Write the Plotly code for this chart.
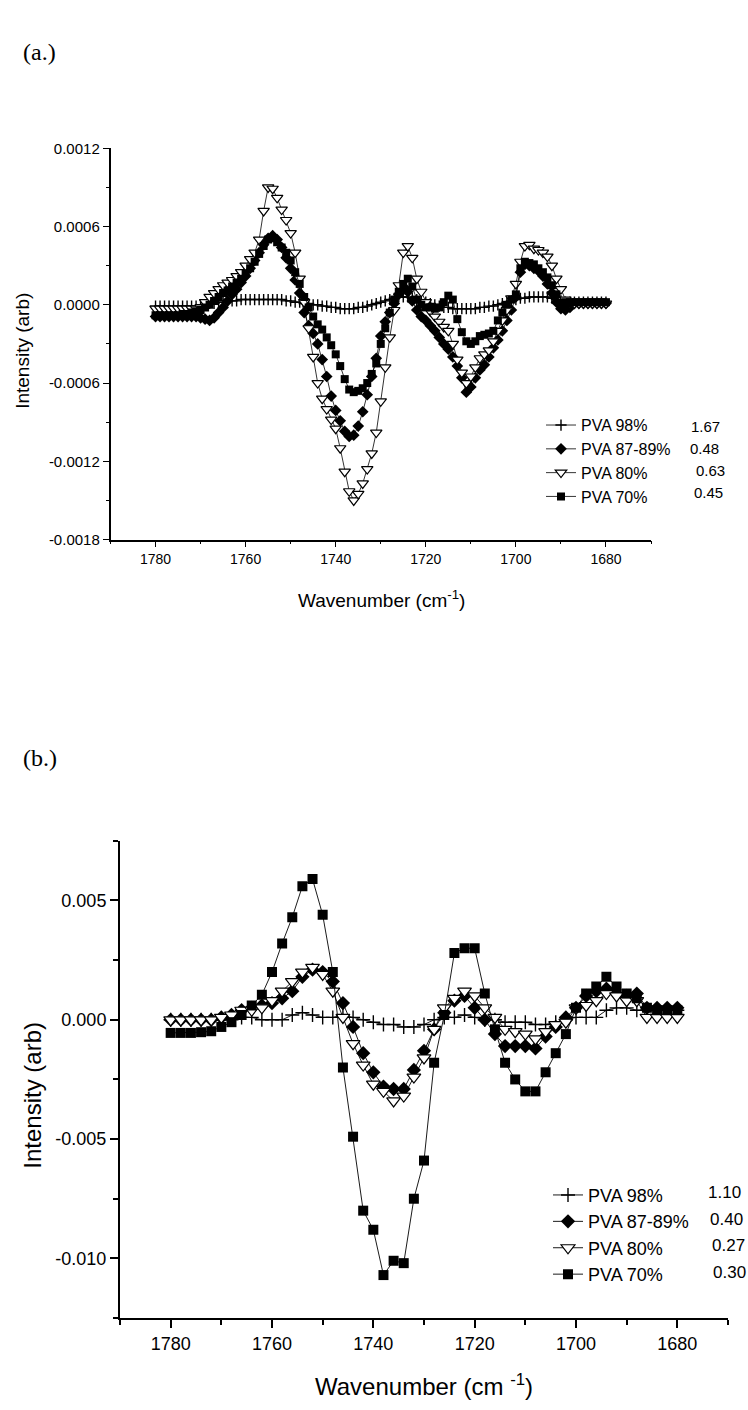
import plotly.graph_objects as go

# ---------------- data: panel (a) ----------------
wavenumber_a = [
    1780, 1779, 1778, 1777, 1776, 1775, 1774, 1773, 1772, 1771,
    1770, 1769, 1768, 1767, 1766, 1765, 1764, 1763, 1762, 1761,
    1760, 1759, 1758, 1757, 1756, 1755, 1754, 1753, 1752, 1751,
    1750, 1749, 1748, 1747, 1746, 1745, 1744, 1743, 1742, 1741,
    1740, 1739, 1738, 1737, 1736, 1735, 1734, 1733, 1732, 1731,
    1730, 1729, 1728, 1727, 1726, 1725, 1724, 1723, 1722, 1721,
    1720, 1719, 1718, 1717, 1716, 1715, 1714, 1713, 1712, 1711,
    1710, 1709, 1708, 1707, 1706, 1705, 1704, 1703, 1702, 1701,
    1700, 1699, 1698, 1697, 1696, 1695, 1694, 1693, 1692, 1691,
    1690, 1689, 1688, 1687, 1686, 1685, 1684, 1683, 1682, 1681,
    1680,
]

pva98_a = [
    -0.00001, -0.00001, -0.00001, -0.00001, -0.00001, -0.00001, -0.00001, -0.00001, -0.00001, -0.00001,
    0.0, 0.0, 0.00001, 0.00001, 0.00002, 0.00002, 0.00003, 0.00003, 0.00003, 0.00004,
    0.00004, 0.00004, 0.00004, 0.00004, 0.00004, 0.00004, 0.00004, 0.00004, 0.00004, 0.00003,
    0.00003, 0.00002, 0.00002, 0.00001, 0.00001, 0.0, 0.0, -0.00001, -0.00001, -0.00002,
    -0.00002, -0.00003, -0.00003, -0.00003, -0.00003, -0.00002, -0.00002, -0.00001, 0.0, 0.00001,
    0.00002, 0.00003, 0.00004, 0.00005, 0.00006, 0.00006, 0.00006, 0.00005, 0.00004, 0.00003,
    0.00002, 0.00001, 0.0, -0.00001, -0.00002, -0.00002, -0.00003, -0.00003, -0.00003, -0.00003,
    -0.00003, -0.00003, -0.00002, -0.00002, -0.00001, -0.00001, 0.0, 0.00001, 0.00002, 0.00003,
    0.00004, 0.00005, 0.00005, 0.00006, 0.00006, 0.00006, 0.00006, 0.00006, 0.00005, 0.00004,
    0.00003, 0.00002, 0.00002, 0.00002, 0.00002, 0.00002, 0.00002, 0.00002, 0.00002, 0.00002,
    0.00002,
]

pva8789_a = [
    -0.00009, -0.00009, -0.00009, -0.00009, -0.00009, -0.00009, -0.00009, -0.00009, -0.00009, -0.00009,
    -0.00010, -0.00011, -0.00012, -0.00010, -0.00006, -0.00002, 0.00003, 0.00008, 0.00012, 0.00017,
    0.00022, 0.00028, 0.00034, 0.00040, 0.00046, 0.00051, 0.00053, 0.00050, 0.00044, 0.00036,
    0.00028, 0.00019, 0.00009, -0.00006, -0.00016, -0.00022, -0.00030, -0.00042, -0.00055, -0.00070,
    -0.00081, -0.00089, -0.00097, -0.00101, -0.00100, -0.00093, -0.00082, -0.00069, -0.00055, -0.00041,
    -0.00024, -0.00013, -0.00006, 0.00001, 0.00008, 0.00014, 0.00010, 0.00003, -0.00004, -0.00009,
    -0.00012, -0.00016, -0.00020, -0.00025, -0.00030, -0.00034, -0.00040, -0.00047, -0.00056, -0.00067,
    -0.00063, -0.00056, -0.00050, -0.00046, -0.00040, -0.00033, -0.00027, -0.00020, -0.00012, -0.00004,
    0.00006, 0.00025, 0.00031, 0.00030, 0.00028, 0.00026, 0.00022, 0.00016, 0.00009, 0.00002,
    -0.00003, -0.00004, -0.00002, 0.00001, 0.00001, 0.00001, 0.00001, 0.00001, 0.00001, 0.00001,
    0.00001,
]

pva80_a = [
    -0.00003, -0.00003, -0.00003, -0.00003, -0.00003, -0.00003, -0.00003, -0.00003, -0.00003, -0.00003,
    -0.00002, 0.00002, 0.00006, 0.00009, 0.00012, 0.00015, 0.00017, 0.00019, 0.00022, 0.00025,
    0.00030, 0.00035, 0.00040, 0.00050, 0.00072, 0.00090, 0.00089, 0.00082, 0.00073, 0.00065,
    0.00055, 0.00040, 0.00020, 0.00002, -0.00018, -0.00040, -0.00060, -0.00072, -0.00080, -0.00088,
    -0.00095, -0.00110, -0.00128, -0.00143, -0.00150, -0.00145, -0.00137, -0.00126, -0.00114, -0.00098,
    -0.00074, -0.00048, -0.00025, -0.00004, 0.00015, 0.00040, 0.00045, 0.00036, 0.00020, 0.00010,
    0.00002, -0.00005, -0.00009, -0.00013, -0.00017, -0.00020, -0.00030, -0.00042, -0.00052, -0.00060,
    -0.00055, -0.00048, -0.00041, -0.00038, -0.00035, -0.00028, -0.00020, -0.00012, -0.00004, 0.00005,
    0.00016, 0.00033, 0.00045, 0.00046, 0.00043, 0.00042, 0.00040, 0.00037, 0.00030, 0.00020,
    0.00012, 0.00004, 0.00002, 0.00001, 0.00001, 0.00001, 0.00001, 0.00001, 0.00001, 0.00001,
    0.00001,
]

pva70_a = [
    -0.00008, -0.00008, -0.00008, -0.00008, -0.00008, -0.00008, -0.00007, -0.00007, -0.00006, -0.00005,
    -0.00004, -0.00002, 0.00000, 0.00003, 0.00006, 0.00009, 0.00011, 0.00014, 0.00017, 0.00020,
    0.00024, 0.00028, 0.00033, 0.00039, 0.00045, 0.00050, 0.00051, 0.00048, 0.00044, 0.00040,
    0.00034, 0.00025, 0.00016, 0.00006, -0.00002, -0.00009, -0.00015, -0.00019, -0.00025, -0.00031,
    -0.00038, -0.00047, -0.00057, -0.00065, -0.00067, -0.00066, -0.00064, -0.00060, -0.00053, -0.00045,
    -0.00030, -0.00018, -0.00006, 0.00004, 0.00010, 0.00016, 0.00020, 0.00014, 0.00004, 0.00000,
    -0.00002, -0.00002, -0.00003, -0.00002, 0.00002, 0.00007, 0.00004, -0.00011, -0.00021, -0.00028,
    -0.00030, -0.00028, -0.00024, -0.00023, -0.00022, -0.00020, -0.00012, -0.00006, 0.00000, 0.00004,
    0.00008, 0.00028, 0.00033, 0.00032, 0.00031, 0.00028, 0.00025, 0.00021, 0.00015, 0.00008,
    0.00001, 0.00002, 0.00002, 0.00002, 0.00002, 0.00002, 0.00002, 0.00002, 0.00002, 0.00002,
    0.00002,
]

# ---------------- data: panel (b) ----------------
wavenumber_b = [
    1780, 1778, 1776, 1774, 1772, 1770, 1768, 1766, 1764, 1762,
    1760, 1758, 1756, 1754, 1752, 1750, 1748, 1746, 1744, 1742,
    1740, 1738, 1736, 1734, 1732, 1730, 1728, 1726, 1724, 1722,
    1720, 1718, 1716, 1714, 1712, 1710, 1708, 1706, 1704, 1702,
    1700, 1698, 1696, 1694, 1692, 1690, 1688, 1686, 1684, 1682,
    1680,
]

pva98_b = [
    0.0, 0.0, 0.0, 0.0, 0.0, 0.0, 0.0, 0.0001, 0.0001, 0.0,
    0.0, 0.0, 0.0002, 0.0003, 0.0002, 0.0001, 0.0001, 0.0002, 0.0001, 0.0,
    -0.0001, -0.0002, -0.0002, -0.0003, -0.0003, -0.0002, 0.0, 0.0001, 0.0001, 0.0002,
    0.0001, 0.0, 0.0, -0.0001, -0.0001, -0.0001, -0.0002, -0.0002, -0.0001, 0.0,
    0.0001, 0.0001, 0.0001, 0.0004, 0.0005, 0.0005, 0.0004, 0.0004, 0.0004, 0.0004,
    0.0004,
]

pva8789_b = [
    0.0, 0.0, 0.0, 0.0, 0.0, 0.0001, 0.0002, 0.0004, 0.0005, 0.0006,
    0.0007, 0.0009, 0.0012, 0.0018, 0.0021, 0.0020, 0.0016, 0.0007, -0.0003, -0.0014,
    -0.0022, -0.0028, -0.0029, -0.0029, -0.0021, -0.0013, -0.0004, 0.0003, 0.0008, 0.0010,
    0.0005, 0.0000, -0.0006, -0.0011, -0.0011, -0.0011, -0.0012, -0.0007, -0.0003, 0.0001,
    0.0005, 0.0010, 0.0012, 0.0013, 0.0011, 0.0010, 0.0011, 0.0005, 0.0005, 0.0005,
    0.0005,
]

pva80_b = [
    0.0, 0.0, 0.0, 0.0, 0.0, 0.0001, 0.0002, 0.0004, 0.0004, 0.0005,
    0.0008, 0.0012, 0.0016, 0.0020, 0.0022, 0.0019, 0.0012, 0.0001, -0.0010, -0.0019,
    -0.0027, -0.0030, -0.0034, -0.0032, -0.0024, -0.0016, -0.0004, 0.0005, 0.0009, 0.0012,
    0.0010, 0.0005, 0.0001, -0.0004, -0.0005, -0.0006, -0.0008, -0.0005, -0.0002, -0.0001,
    0.0005, 0.0006, 0.0008, 0.0011, 0.0010, 0.0008, 0.0008, 0.0001, 0.0001, 0.0001,
    0.0001,
]

pva70_b = [
    -0.00055, -0.00055, -0.00055, -0.00052, -0.00048, -0.00030, -0.00010, 0.00020, 0.00060, 0.00105,
    0.0020, 0.0032, 0.0043, 0.0056, 0.0059, 0.0044, 0.0020, -0.0020, -0.0049, -0.0080,
    -0.0088, -0.0107, -0.0101, -0.0102, -0.0075, -0.0059, -0.0018, 0.0002, 0.0028, 0.0030,
    0.0030, 0.0011, -0.0004, -0.0018, -0.0025, -0.0030, -0.0030, -0.0022, -0.0014, -0.0006,
    0.0005, 0.0011, 0.0014, 0.0018, 0.0014, 0.0011, 0.0009, 0.0005, 0.0004, 0.0004,
    0.0004,
]

series_names = ["PVA 98%", "PVA 87-89%", "PVA 80%", "PVA 70%"]
ratios_a = ["1.67", "0.48", "0.63", "0.45"]
ratios_b = ["1.10", "0.40", "0.27", "0.30"]

x_tickvals = [1780, 1760, 1740, 1720, 1700, 1680]
x_ticktext = ["1780", "1760", "1740", "1720", "1700", "1680"]
ya_tickvals = [0.0012, 0.0006, 0.0, -0.0006, -0.0012, -0.0018]
ya_ticktext = ["0.0012", "0.0006", "0.0000", "-0.0006", "-0.0012", "-0.0018"]
yb_tickvals = [0.005, 0.0, -0.005, -0.010]
yb_ticktext = ["0.005", "0.000", "-0.005", "-0.010"]

# ---------------- page geometry (pixels) ----------------
W, H = 748, 1410


def px_x(p):
    return p / W


def px_y(p):
    return 1 - p / H


FONT = "Arial, Liberation Sans, sans-serif"
SERIF = "Times New Roman, Liberation Serif, serif"

fig = go.Figure()


def marker_style(name, size):
    if name == "PVA 98%":
        return dict(symbol="cross-thin", size=size, color="black",
                    line=dict(color="black", width=1.4))
    if name == "PVA 87-89%":
        return dict(symbol="diamond", size=size + 1, color="black",
                    line=dict(color="black", width=0))
    if name == "PVA 80%":
        return dict(symbol="triangle-down", size=size + 2, color="white",
                    line=dict(color="black", width=1.2))
    return dict(symbol="square", size=size, color="black",
                line=dict(color="black", width=0))


series_a = [pva98_a, pva8789_a, pva80_a, pva70_a]
series_b = [pva98_b, pva8789_b, pva80_b, pva70_b]

for i, (name, ys) in enumerate(zip(series_names, series_a)):
    fig.add_trace(go.Scatter(
        x=wavenumber_a, y=ys, name=name, mode="lines+markers",
        line=dict(color="black", width=0.8),
        marker=marker_style(name, 8),
        xaxis="x", yaxis="y", legend="legend", legendgroup="a%d" % i,
    ))

for i, (name, ys) in enumerate(zip(series_names, series_b)):
    fig.add_trace(go.Scatter(
        x=wavenumber_b, y=ys, name=name, mode="lines+markers",
        line=dict(color="black", width=0.9),
        marker=marker_style(name, 10),
        xaxis="x2", yaxis="y2", legend="legend2", legendgroup="b%d" % i,
    ))

axis_common = dict(showgrid=False, zeroline=False, showline=True,
                   linecolor="black", ticks="outside", tickcolor="black",
                   mirror=False)

fig.update_layout(
    width=W, height=H,
    margin=dict(l=0, r=0, t=0, b=0),
    paper_bgcolor="white", plot_bgcolor="white",
    font=dict(family=FONT, color="black"),
    xaxis=dict(
        **axis_common, domain=[px_x(110.5), px_x(651)], anchor="y",
        range=[1790, 1670], tickvals=x_tickvals, ticktext=x_ticktext,
        ticklen=6, tickwidth=1.2, linewidth=1.5,
        minor=dict(dtick=10, tick0=1790, ticks="outside", ticklen=3,
                   tickcolor="black", tickwidth=1.2),
        tickfont=dict(family=FONT, size=14, color="black"),
    ),
    yaxis=dict(
        **axis_common, domain=[px_y(537), px_y(141)], anchor="x",
        range=[-0.0018, 0.0012], tickvals=ya_tickvals, ticktext=ya_ticktext,
        ticklen=6, tickwidth=1.2, linewidth=1.5,
        minor=dict(dtick=0.0003, tick0=0, ticks="outside", ticklen=3,
                   tickcolor="black", tickwidth=1.2),
        tickfont=dict(family=FONT, size=15, color="black"),
    ),
    xaxis2=dict(
        **axis_common, domain=[px_x(120), px_x(728)], anchor="y2",
        range=[1790, 1670], tickvals=x_tickvals, ticktext=x_ticktext,
        ticklen=8, tickwidth=1.5, linewidth=2,
        minor=dict(dtick=10, tick0=1790, ticks="outside", ticklen=5,
                   tickcolor="black", tickwidth=1.5),
        tickfont=dict(family=FONT, size=18, color="black"),
    ),
    yaxis2=dict(
        **axis_common, domain=[px_y(1325), px_y(842)], anchor="x2",
        range=[-0.0125, 0.0075], tickvals=yb_tickvals, ticktext=yb_ticktext,
        ticklen=8, tickwidth=1.5, linewidth=2,
        minor=dict(dtick=0.0025, tick0=0, ticks="outside", ticklen=5,
                   tickcolor="black", tickwidth=1.5),
        tickfont=dict(family=FONT, size=18, color="black"),
    ),
    legend=dict(
        x=px_x(541), y=px_y(404), xanchor="left", yanchor="top",
        font=dict(family=FONT, size=16, color="black"),
        bgcolor="rgba(0,0,0,0)", borderwidth=0, tracegroupgap=0,
        itemwidth=30, traceorder="normal",
    ),
    legend2=dict(
        x=px_x(548), y=px_y(1182), xanchor="left", yanchor="top",
        font=dict(family=FONT, size=18, color="black"),
        bgcolor="rgba(0,0,0,0)", borderwidth=0, tracegroupgap=0,
        itemwidth=30, traceorder="normal",
    ),
)

annotations = []

# ratio column beside each legend
rows_a = [423, 445, 467, 489]
cols_a = [689, 688, 694, 692]
for txt, yy, xx in zip(ratios_a, rows_a, cols_a):
    annotations.append(dict(text=txt, x=px_x(xx), y=px_y(yy), xref="paper", yref="paper",
                            xanchor="left", yanchor="middle", showarrow=False,
                            font=dict(family=FONT, size=15, color="black")))
rows_b = [1198, 1225, 1252, 1279]
cols_b = [706, 708, 710, 711]
for txt, yy, xx in zip(ratios_b, rows_b, cols_b):
    annotations.append(dict(text=txt, x=px_x(xx), y=px_y(yy), xref="paper", yref="paper",
                            xanchor="left", yanchor="middle", showarrow=False,
                            font=dict(family=FONT, size=17, color="black")))

# axis titles
annotations += [
    dict(text="Intensity (arb)", x=px_x(23), y=px_y(346), xref="paper", yref="paper",
         textangle=-90, showarrow=False, xanchor="center", yanchor="middle",
         font=dict(family=FONT, size=19, color="black")),
    dict(text="Wavenumber (cm<sup>-1</sup>)", x=px_x(381), y=px_y(597), xref="paper", yref="paper",
         showarrow=False, xanchor="center", yanchor="middle",
         font=dict(family=FONT, size=19, color="black")),
    dict(text="Intensity (arb)", x=px_x(33), y=px_y(1100), xref="paper", yref="paper",
         textangle=-90, showarrow=False, xanchor="center", yanchor="middle",
         font=dict(family=FONT, size=24, color="black")),
    dict(text="Wavenumber (cm <sup>-1</sup>)", x=px_x(424), y=px_y(1393), xref="paper", yref="paper",
         showarrow=False, xanchor="center", yanchor="middle",
         font=dict(family=FONT, size=24, color="black")),
    # panel labels
    dict(text="(a.)", x=px_x(21), y=px_y(44), xref="paper", yref="paper",
         showarrow=False, xanchor="left", yanchor="middle",
         font=dict(family=SERIF, size=24, color="black")),
    dict(text="(b.)", x=px_x(21), y=px_y(758), xref="paper", yref="paper",
         showarrow=False, xanchor="left", yanchor="middle",
         font=dict(family=SERIF, size=24, color="black")),
]
fig.update_layout(annotations=annotations)

fig.write_html("out.html")
